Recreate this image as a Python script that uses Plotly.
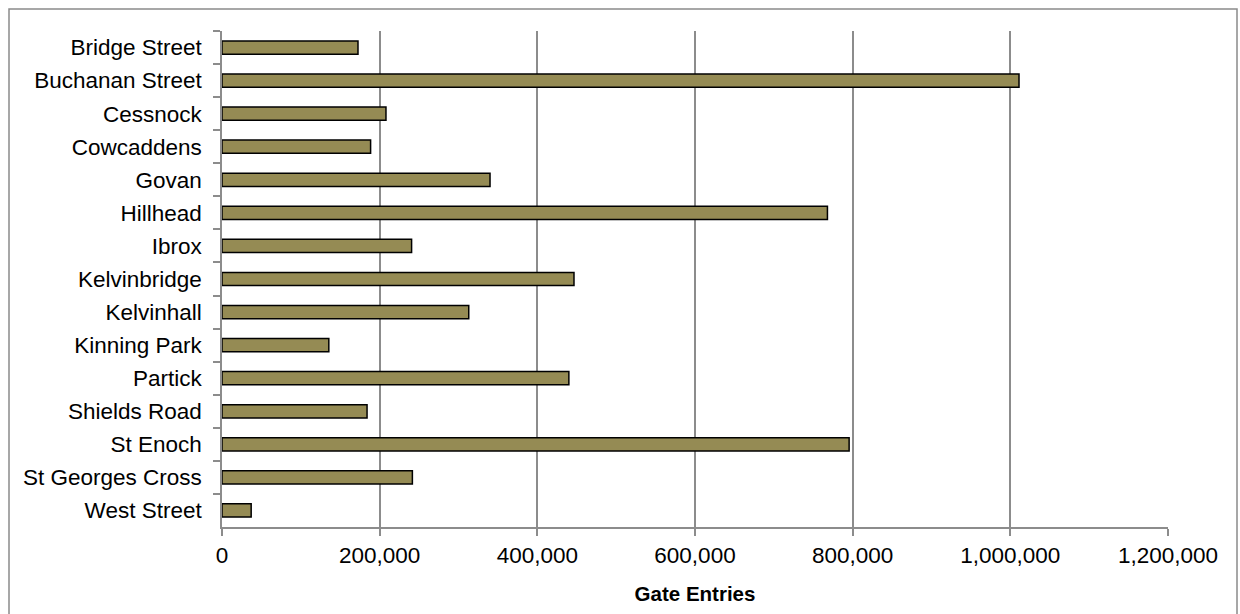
import plotly.graph_objects as go

stations = [
    "Bridge Street", "Buchanan Street", "Cessnock", "Cowcaddens", "Govan",
    "Hillhead", "Ibrox", "Kelvinbridge", "Kelvinhall", "Kinning Park",
    "Partick", "Shields Road", "St Enoch", "St Georges Cross", "West Street",
]
gate_entries = [
    172500, 1011000, 208000, 188500, 340000,
    768000, 240500, 446500, 313000, 135500,
    440000, 184000, 795500, 241500, 37000,
]
x_ticks = [0, 200000, 400000, 600000, 800000, 1000000, 1200000]

W, H = 1240, 614
ML, MR, MT, MB = 222, 72, 31, 87
PW, PH = W - ML - MR, H - MT - MB

def px_x(p):
    return (p - ML) / PW

def px_y(p):
    return (H - MB - p) / PH

AXIS_GREY = "#8c8c8c"
FONT = "Liberation Sans, Arial, sans-serif"

fig = go.Figure(
    go.Bar(
        x=gate_entries,
        y=stations,
        orientation="h",
        marker=dict(color="#958b54", line=dict(color="#000000", width=1.5)),
        hoverinfo="x+y",
    )
)

fig.update_layout(
    width=W,
    height=H,
    autosize=False,
    margin=dict(l=ML, r=MR, t=MT, b=MB, pad=0),
    paper_bgcolor="white",
    plot_bgcolor="white",
    bargap=0.6,
    showlegend=False,
    font=dict(family=FONT, size=22, color="#000000"),
    xaxis=dict(
        range=[0, 1200000],
        tickvals=x_ticks,
        tickformat=",d",
        showgrid=True,
        gridcolor=AXIS_GREY,
        gridwidth=1.5,
        zeroline=False,
        showline=True,
        linecolor=AXIS_GREY,
        linewidth=1.5,
        ticks="outside",
        ticklen=7,
        tickwidth=1.5,
        tickcolor=AXIS_GREY,
        tickfont=dict(family=FONT, size=22.5, color="#000000"),
        title=dict(
            text="<b>Gate Entries</b>",
            font=dict(family=FONT, size=20.5, color="#000000"),
            standoff=20,
        ),
    ),
    yaxis=dict(
        categoryorder="array",
        categoryarray=stations,
        autorange="reversed",
        showgrid=False,
        zeroline=False,
        showline=True,
        linecolor=AXIS_GREY,
        linewidth=1.5,
        ticks="outside",
        tickson="boundaries",
        ticklen=7,
        tickwidth=1.5,
        tickcolor=AXIS_GREY,
        ticklabelstandoff=14,
        tickfont=dict(family=FONT, size=22.5, color="#000000"),
    ),
    shapes=[
        dict(
            type="rect",
            xref="paper",
            yref="paper",
            x0=px_x(9),
            x1=px_x(1237),
            y0=px_y(640),
            y1=px_y(9),
            line=dict(color="#8a8a8a", width=1.5),
            fillcolor="rgba(0,0,0,0)",
            layer="below",
        )
    ],
)

fig.write_html("out.html")
